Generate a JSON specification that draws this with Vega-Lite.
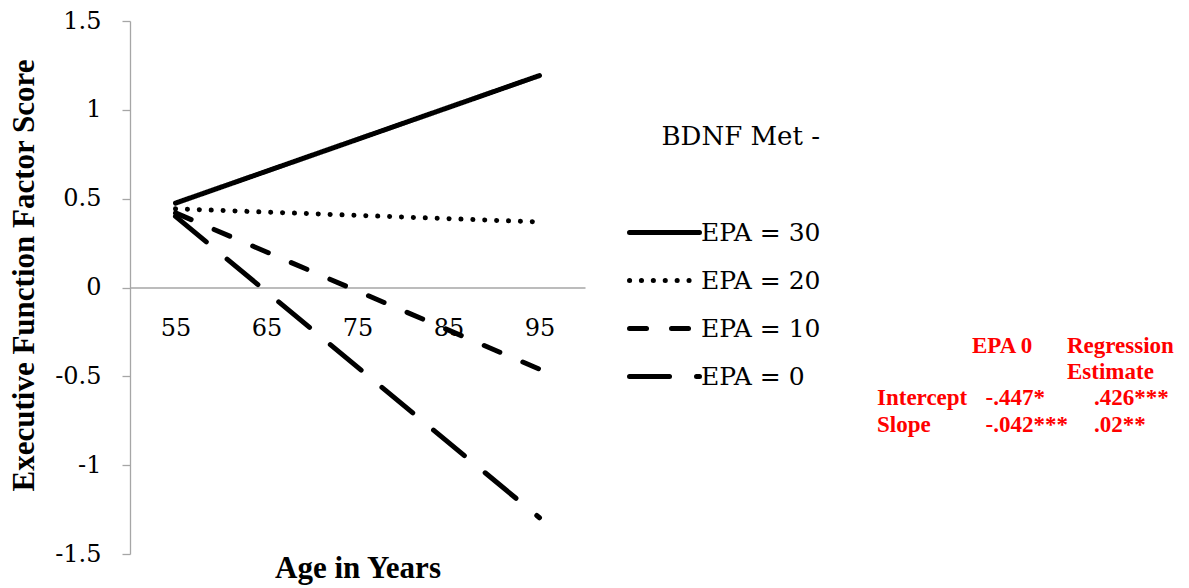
{
  "$schema": "https://vega.github.io/schema/vega-lite/v6.json",
  "autosize": "none",
  "width": 455,
  "height": 533,
  "padding": {"left": 130, "top": 21, "right": 604, "bottom": 34},
  "background": "white",
  "config": {
    "font": "Liberation Serif",
    "view": {"stroke": null},
    "axis": {"domainColor": "#a6a6a6", "tickColor": "#a6a6a6", "domainWidth": 1.3, "tickWidth": 1.3, "grid": false, "labelColor": "black", "titleColor": "black"}
  },
  "datasets": {
    "lines": [
      {"age": 55, "score": 0.475, "epa": "EPA = 30"},
      {"age": 95, "score": 1.193, "epa": "EPA = 30"},
      {"age": 55, "score": 0.443, "epa": "EPA = 20"},
      {"age": 95, "score": 0.369, "epa": "EPA = 20"},
      {"age": 55, "score": 0.42, "epa": "EPA = 10"},
      {"age": 95, "score": -0.46, "epa": "EPA = 10"},
      {"age": 55, "score": 0.4, "epa": "EPA = 0"},
      {"age": 95, "score": -1.296, "epa": "EPA = 0"}
    ],
    "header": [
      {"r": "h1", "c": "epa0", "t": "EPA 0"},
      {"r": "h1", "c": "reg", "t": "Regression"},
      {"r": "h2", "c": "reg", "t": "Estimate"}
    ],
    "cells": [
      {"r": "int", "c": "lab", "t": "Intercept"},
      {"r": "int", "c": "v1", "t": "-.447*"},
      {"r": "int", "c": "v2", "t": ".426***"},
      {"r": "slope", "c": "lab", "t": "Slope"},
      {"r": "slope", "c": "v1", "t": "-.042***"},
      {"r": "slope", "c": "v2", "t": ".02**"}
    ]
  },
  "layer": [
    {
      "data": {"name": "lines"},
      "mark": {"type": "line", "strokeWidth": 5, "strokeCap": "round", "color": "black"},
      "encoding": {
        "x": {
          "field": "age", "type": "quantitative",
          "scale": {"domain": [50, 100], "nice": false, "zero": false},
          "axis": {
            "values": [55, 65, 75, 85, 95],
            "offset": -266.5,
            "ticks": false,
            "tickSize": 0,
            "labelFont": "DejaVu Serif",
            "labelFontSize": 24,
            "labelBaseline": "alphabetic",
            "labelPadding": 47.5,
            "labelExpr": "toString(datum.value)",
            "title": "Age in Years",
            "titleFont": "Liberation Serif",
            "titleFontSize": 31,
            "titleFontWeight": "bold",
            "titleBaseline": "alphabetic",
            "titleY": 289.5,
            "titleX": 227.5
          }
        },
        "y": {
          "field": "score", "type": "quantitative",
          "scale": {"domain": [-1.5, 1.5], "nice": false, "zero": false},
          "axis": {
            "values": [-1.5, -1, -0.5, 0, 0.5, 1, 1.5],
            "tickSize": 8,
            "labelPadding": 21,
            "labelFont": "DejaVu Serif",
            "labelFontSize": 24,
            "labelExpr": "toString(datum.value)",
            "title": "Executive Function Factor Score",
            "titleFont": "Liberation Serif",
            "titleFontSize": 31,
            "titleFontWeight": "bold",
            "titleBaseline": "alphabetic",
            "titleX": -97,
            "titleY": 254,
            "titleAngle": -90,
            "titleAlign": "center"
          }
        },
        "detail": {"field": "epa"},
        "strokeDash": {
          "field": "epa", "type": "nominal",
          "scale": {
            "domain": ["EPA = 30", "EPA = 20", "EPA = 10", "EPA = 0"],
            "range": [[1, 0], [0.1, 11.8], [17, 25], [40, 27]]
          },
          "legend": {
            "orient": "none",
            "legendX": 508,
            "legendY": 103,
            "padding": 0,
            "title": "BDNF Met -",
            "titleFont": "DejaVu Serif",
            "titleFontSize": 26,
            "titleFontWeight": "normal",
            "titleColor": "black",
            "titleBaseline": "top",
            "titleAnchor": "end",
            "titleLimit": 0,
            "titlePadding": 56,
            "labelFont": "DejaVu Serif",
            "labelFontSize": 25,
            "labelColor": "black",
            "labelOffset": 10,
            "labelLimit": 0,
            "symbolType": "M-1.458,0H1.458",
            "symbolSize": 2304,
            "symbolStrokeWidth": 5,
            "symbolStrokeColor": "black",
            "symbolFillColor": "transparent",
            "rowPadding": 8,
            "encode": {"symbols": {"update": {"strokeCap": {"value": "round"}}}}
          }
        }
      }
    },
    {
      "data": {"name": "header"},
      "mark": {"type": "text", "align": "left", "baseline": "middle", "fontSize": 23, "fontWeight": "bold", "color": "#ff0000", "font": "Liberation Serif"},
      "encoding": {
        "x": {"field": "c", "type": "nominal", "scale": {"type": "point", "domain": ["epa0", "reg"], "range": [842, 937], "padding": 0}, "axis": null},
        "y": {"field": "r", "type": "nominal", "scale": {"type": "point", "domain": ["h1", "h2", "int", "slope"], "range": [324.5, 403.5], "padding": 0}, "axis": null},
        "text": {"field": "t"}
      }
    },
    {
      "data": {"name": "cells"},
      "mark": {"type": "text", "align": "left", "baseline": "middle", "fontSize": 23, "fontWeight": "bold", "color": "#ff0000", "font": "Liberation Serif"},
      "encoding": {
        "x": {"field": "c", "type": "nominal", "scale": {"type": "point", "domain": ["lab", "v1", "v2"], "range": [747, 964], "padding": 0}, "axis": null},
        "y": {"field": "r", "type": "nominal", "scale": {"type": "point", "domain": ["h1", "h2", "int", "slope"], "range": [324.5, 403.5], "padding": 0}, "axis": null},
        "text": {"field": "t"}
      }
    }
  ],
  "resolve": {"scale": {"x": "independent", "y": "independent"}}
}
